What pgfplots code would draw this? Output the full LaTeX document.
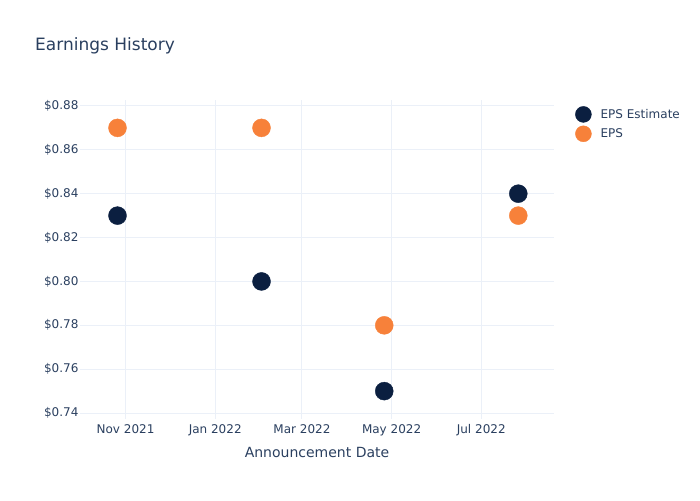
\documentclass[border=0pt]{standalone}
\usepackage{pgfplots}
\pgfplotsset{compat=1.18}
\usepackage{fontspec}
\setmainfont{DejaVu Sans}
\definecolor{txt}{HTML}{2A3F5F}
\definecolor{gridc}{HTML}{EBF0F8}
\definecolor{navy}{HTML}{0B1F40}
\definecolor{orng}{HTML}{F7813A}
% x = days since 2021-10-01
\begin{document}
\begin{tikzpicture}[x=1pt,y=1pt]
\path (0,0) rectangle (700,500);
\node[anchor=base west, text=txt, font=\fontsize{17}{20}\selectfont, inner sep=0pt] at (35,449) {Earnings History};
\begin{axis}[
  at={(80pt,81pt)}, anchor=south west,
  scale only axis, width=474pt, height=319pt,
  xmin=0, xmax=322.5, ymin=0.7373, ymax=0.8827,
  xtick={31,92,151,212,273},
  xticklabels={Nov 2021,Jan 2022,Mar 2022,May 2022,Jul 2022},
  ytick={0.74,0.76,0.78,0.80,0.82,0.84,0.86,0.88},
  yticklabel={\$\pgfmathprintnumber[fixed,fixed zerofill,precision=2]{\tick}},
  /pgf/number format/assume math mode=true,
  axis line style={draw=none}, major tick length=0pt,
  grid=major, major grid style={draw=gridc, line width=1pt},
  ticklabel style={font=\fontsize{12}{14}\selectfont, text=txt},
  xticklabel style={yshift=-2pt},
  yticklabel style={xshift=2pt},
  xlabel={Announcement Date},
  xlabel style={font=\fontsize{14}{16}\selectfont, text=txt, yshift=-4pt},
  legend style={at={(1,1)}, anchor=north west, xshift=18pt, yshift=-4pt, draw=none, fill=none,
    font=\fontsize{12}{14}\selectfont, text=txt, row sep=3pt, column sep=8pt,
    nodes={inner sep=1pt}},
  legend cell align=left,
]
\addplot[only marks, mark=*, mark size=9pt, color=navy,
  legend image code/.code={\fill[navy] (8pt,0pt) circle (8pt);}] coordinates {
  (25.5,0.83) (123.5,0.80) (207,0.75) (298.2,0.84)};
\addlegendentry{EPS Estimate}
\addplot[only marks, mark=*, mark size=9pt, color=orng,
  legend image code/.code={\fill[orng] (8pt,0pt) circle (8pt);}] coordinates {
  (25.5,0.87) (123.5,0.87) (207,0.78) (298.2,0.83)};
\addlegendentry{EPS}
\end{axis}
\end{tikzpicture}
\end{document}
